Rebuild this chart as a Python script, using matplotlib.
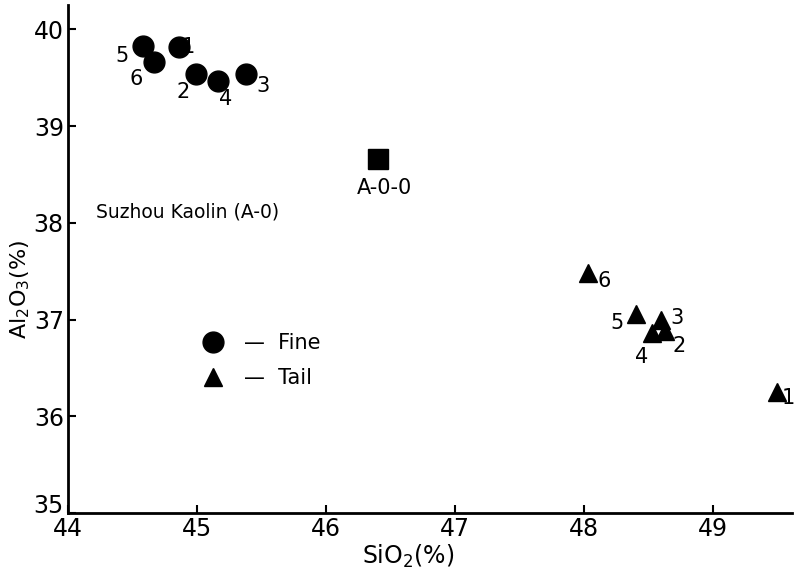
import matplotlib.pyplot as plt
from matplotlib.lines import Line2D

plt.rcParams['font.family'] = ['DejaVu Sans']
plt.rcParams['mathtext.default'] = 'regular'

# Fine fractions (circles)
fine_labels = ['1', '2', '3', '4', '5', '6']
fine_sio2 = [44.86, 44.99, 45.38, 45.16, 44.58, 44.67]
fine_al2o3 = [39.82, 39.54, 39.54, 39.47, 39.83, 39.66]

# Tail fractions (triangles)
tail_labels = ['1', '2', '3', '4', '5', '6']
tail_sio2 = [49.50, 48.63, 48.60, 48.53, 48.40, 48.03]
tail_al2o3 = [36.25, 36.88, 37.00, 36.86, 37.06, 37.48]

# raw kaolin
raw_label = 'A-0-0'
raw_sio2 = [46.40]
raw_al2o3 = [38.66]

# label offsets in points (dx, dy)
fine_offsets = {'1': (7, 0), '2': (-9, -13), '3': (12, -9), '4': (6, -13),
                '5': (-15, -7), '6': (-13, -12)}
tail_offsets = {'1': (8, -4), '2': (10, -11), '3': (11, 1), '4': (-8, -17),
                '5': (-13, -7), '6': (12, -6)}

fig = plt.figure(figsize=(7.94, 5.77), dpi=100)
ax = fig.add_axes([0.0856, 0.111, 0.9114, 0.88])

ax.plot(fine_sio2, fine_al2o3, 'o', color='black', markersize=15, linestyle='none')
ax.plot(tail_sio2, tail_al2o3, '^', color='black', markersize=13, linestyle='none')
ax.plot(raw_sio2, raw_al2o3, 's', color='black', markersize=14, linestyle='none')

for lab, x, y in zip(fine_labels, fine_sio2, fine_al2o3):
    dx, dy = fine_offsets[lab]
    ax.annotate(lab, (x, y), xytext=(dx, dy), textcoords='offset points',
                ha='center', va='center', fontsize=15)
for lab, x, y in zip(tail_labels, tail_sio2, tail_al2o3):
    dx, dy = tail_offsets[lab]
    ax.annotate(lab, (x, y), xytext=(dx, dy), textcoords='offset points',
                ha='center', va='center', fontsize=15)
ax.annotate(raw_label, (raw_sio2[0], raw_al2o3[0]), xytext=(5, -21),
            textcoords='offset points', ha='center', va='center', fontsize=15)

ax.text(44.22, 38.11, 'Suzhou Kaolin (A-0)', fontsize=13.5, ha='left', va='center')

handles = [Line2D([], [], marker='o', color='black', linestyle='none', markersize=15),
           Line2D([], [], marker='^', color='black', linestyle='none', markersize=13)]
ax.legend(handles, ['—  Fine', '—  Tail'], frameon=False, fontsize=15,
          loc='center left', bbox_to_anchor=(0.146, 0.30),
          handletextpad=0.5, labelspacing=0.75)

ax.set_xlim(44, 49.61)
ax.set_ylim(35, 40.25)
ax.set_xticks([44, 45, 46, 47, 48, 49])
ax.set_yticks([35, 36, 37, 38, 39, 40])
ax.tick_params(direction='in', length=6, width=1.5, labelsize=17, pad=3)
ax.get_yticklabels()[0].set_va('baseline')
for s in ['top', 'right']:
    ax.spines[s].set_visible(False)
for s in ['left', 'bottom']:
    ax.spines[s].set_linewidth(2)

ax.set_xlabel('SiO$_2$(%)', fontsize=17)
ax.xaxis.set_label_coords(0.47, -0.058)
ax.set_ylabel('Al$_2$O$_3$(%)', fontsize=16)
ax.yaxis.set_label_coords(-0.05, 0.44)

fig.savefig('out.png', dpi=100)
